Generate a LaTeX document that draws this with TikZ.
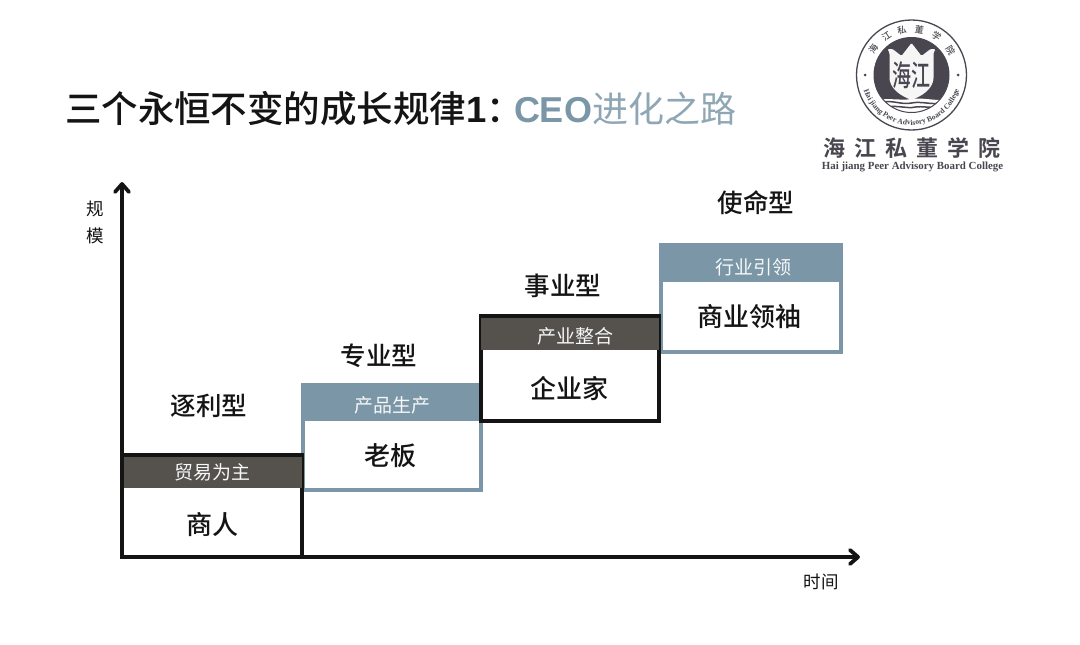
\documentclass[tikz,border=0pt]{standalone}
\usepackage{fontspec}
\usetikzlibrary{arrows.meta,decorations.text}
\setmainfont{Liberation Serif}
\newfontfamily\cjk{Noto Sans CJK SC}
\newfontfamily\cjkm{Noto Sans CJK SC Medium}
\newfontfamily\cjkh{Noto Sans CJK SC Bold}
\newfontfamily\latb{Liberation Sans}
\definecolor{slate}{HTML}{7B97A7}
\definecolor{darkhead}{HTML}{55514D}
\definecolor{ink}{HTML}{141414}
\definecolor{logoink}{HTML}{4A4650}
\tikzset{
  x=1pt,y=-1pt,
  every node/.style={inner sep=0pt,outer sep=0pt,text=ink},
  stage/.style={font=\cjkm\fontsize{25.5}{25.5}\selectfont},
  role/.style={font=\cjkm\fontsize{26}{26}\selectfont},
  tag/.style={font=\cjk\fontsize{19}{19}\selectfont,text=white!92!slate},
  axlabel/.style={font=\cjk\fontsize{17.5}{17.5}\selectfont},
  body/.style={draw,fill=white,anchor=north west,minimum width=#1,rectangle},
  blackbody/.style={body=#1,draw=black!92,line width=3.4pt},
  slatebody/.style={body=#1,draw=slate,line width=3.4pt},
  head/.style={anchor=north west,minimum width=#1,rectangle},
  axis/.style={draw=black!92,line width=3.4pt},
  chevron/.style={draw=black!92,line width=3.8pt,line cap=round,line join=round},
}
\begin{document}
\begin{tikzpicture}
\useasboundingbox (0,0) rectangle (1080,645);
\fill[white] (0,0) rectangle (1080,645);

% title
\node[anchor=west,font=\cjkm\fontsize{36.5}{36.5}\selectfont] (title) at (65,109) {三个永恒不变的成长规律{\latb\bfseries 1}\makebox[14pt][l]{：}};
\node[anchor=west,text=slate,font=\fontsize{36}{36}\selectfont] (subtitle) at (514,109) {{\latb\bfseries CEO}{\cjk\color{slate!85}进化之路}};

% stage 4
\node[slatebody=180pt,minimum height=107pt] (box4) at (661,245) {};
\node[head=182pt,minimum height=38pt,fill=slate] (head4) at (660,244) {};
% stage 2
\node[slatebody=178pt,minimum height=105pt] (box2) at (303,385) {};
\node[head=180pt,minimum height=37pt,fill=slate] (head2) at (302,384) {};
% stage 3
\node[blackbody=178pt,minimum height=105pt] (box3) at (481,316) {};
\node[head=178pt,minimum height=34pt,fill=darkhead] (head3) at (481,316) {};
\draw[black!92,line width=3.4pt] (head3.north west) -- (head3.north east);
% stage 1
\node[blackbody=180pt,minimum height=102pt] (box1) at (122,455) {};
\node[head=180pt,minimum height=33pt,fill=darkhead] (head1) at (122,455) {};
\draw[black!92,line width=3.4pt] (head1.north west) -- (head1.north east);

% tags and roles
\node[tag] (t1) at (212,472) {贸易为主};
\node[tag] (t2) at (392,405) {产品生产};
\node[tag] (t3) at (575,336) {产业整合};
\node[tag] (t4) at (753,267) {行业引领};
\node[role] (r1) at (212,525) {商人};
\node[role] (r2) at (390,456) {老板};
\node[role] (r3) at (569,388) {企业家};
\node[role] (r4) at (749,317) {商业领袖};
\node[stage] (s1) at (209,406) {逐利型};
\node[stage] (s2) at (379,356) {专业型};
\node[stage] (s3) at (563,286) {事业型};
\node[stage] (s4) at (756,203) {使命型};

% axes
\coordinate (origin) at (122,557);
\coordinate (ytip) at (122,184);
\coordinate (xtip) at (858,557);
\draw[axis] (origin) -- (ytip);
\draw[axis] (origin) -- (xtip);
\draw[chevron] ([shift={(-7,8)}]ytip) -- (ytip) -- ([shift={(7,8)}]ytip);
\draw[chevron] ([shift={(-8,-7)}]xtip) -- (xtip) -- ([shift={(-8,7)}]xtip);
\node[axlabel] (yl1) at (95,209) {规};
\node[axlabel] (yl2) at (95,236) {模};
\node[axlabel] (xl) at (821,582) {时间};

% logo
\begin{scope}[shift={(911.5,75)},x=1pt,y=1pt]
  \draw[logoink,line width=1.3pt] (0,0) circle (55);
  \fill[logoink] (0,0) circle (37.5);
  \begin{scope}
    \clip (0,0) circle (37.5);
    \fill[white] (-40,-26) .. controls (-25,-22) and (-12,-26) .. (0,-24) .. controls (12,-22) and (25,-27) .. (40,-24) -- (40,-40) -- (-40,-40) -- cycle;
    \draw[logoink,line width=1.5pt] (-30,-27) .. controls (-18,-25) and (-10,-30) .. (0,-28) .. controls (10,-26) and (20,-30) .. (30,-28);
    \draw[logoink,line width=1.5pt] (-24,-32) .. controls (-14,-30) and (-4,-34) .. (4,-32) .. controls (10,-31) and (18,-33) .. (24,-32);
  \end{scope}
  \draw[logoink,line width=1pt] (0,0) circle (37.5);
  % shield with crown
  \fill[white!95!logoink,rounded corners=1.2pt] (-22,-4) -- (-22,22) -- (-24,26) -- (-19,26) -- (-10,19) -- (0,32) -- (10,19) -- (19,26) -- (24,26) -- (22,22) -- (22,-4) .. controls (20,-15) and (10,-21) .. (0,-25) .. controls (-10,-21) and (-20,-15) .. (-22,-4) -- cycle;
  \node[text=logoink,font=\cjkm\fontsize{19}{19}\selectfont] (seal) at (0,0) {\scalebox{1}[1.55]{海江}};
  \foreach \ch/\ang/\nm in {海/146/a,江/123/b,私/102/c,董/80/d,学/57/e,院/32/f}{
    \node[rotate=\ang-90,text=logoink,font=\cjkm\fontsize{9}{9}\selectfont] (ring\nm) at (\ang:46) {\ch};
  }
  \fill[logoink] (-46.5,0) circle (1.5);
  \fill[logoink] (46.5,0) circle (1.5);
  \path[decorate,decoration={text along path,text align=center,
     text={|\fontsize{7.6}{7.6}\selectfont\bfseries\color{logoink}|Hai jiang Peer Advisory Board College}}]
     (190:50) arc[start angle=190,end angle=350,radius=50];
\end{scope}
\node[anchor=center,text=logoink,font=\cjkh\fontsize{22}{22}\selectfont] (logocn) at (912,148) {海\hspace{9pt}江\hspace{9pt}私\hspace{9pt}董\hspace{9pt}学\hspace{9pt}院};
\node[anchor=center,text=logoink,font=\bfseries\fontsize{10.9}{10.9}\selectfont] (logoen) at (912.5,167) {Hai jiang Peer Advisory Board College};
\end{tikzpicture}
\end{document}
